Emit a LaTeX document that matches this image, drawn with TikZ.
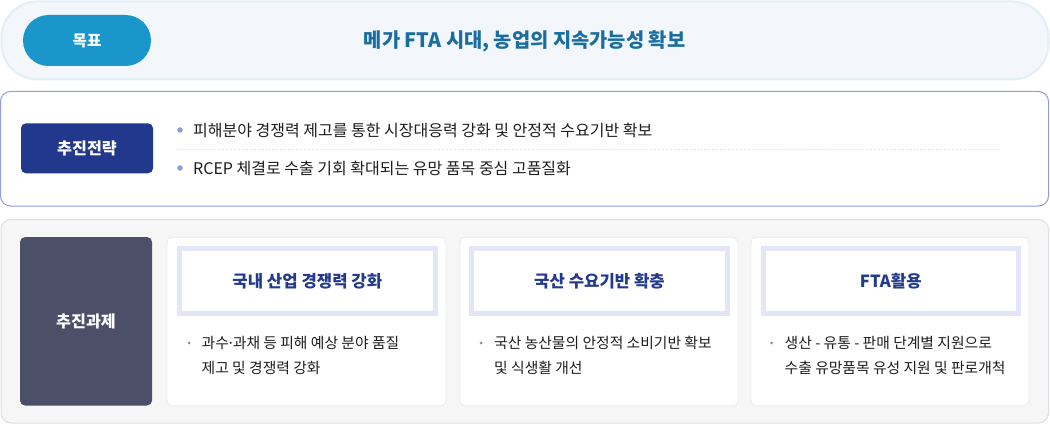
\documentclass[tikz,border=0pt]{standalone}
\usepackage{fontspec}
\setmainfont{Noto Sans CJK KR}
\newfontfamily\latinfont{Noto Sans}
\definecolor{goalfill}{HTML}{F3F7FB}
\definecolor{goalborder}{HTML}{E2EFF7}
\definecolor{goalpill}{HTML}{1A96CB}
\definecolor{goaltxt}{HTML}{1A6E9F}
\definecolor{stratborder}{HTML}{8F9CDD}
\definecolor{stratfill}{HTML}{22388C}
\definecolor{taskfill}{HTML}{F6F6F7}
\definecolor{taskborder}{HTML}{DCDFE6}
\definecolor{tasklabel}{HTML}{4B5068}
\definecolor{cardborder}{HTML}{EBECEF}
\definecolor{headborder}{HTML}{E3E6F7}
\definecolor{headtxt}{HTML}{233A8E}
\definecolor{bodytxt}{HTML}{1E1E1E}
\definecolor{sepcol}{HTML}{D8DBE4}
\begin{document}
\begin{tikzpicture}[x=1pt,y=-1pt,
  frame/.style={inner sep=0pt, outer sep=0pt},
  labelbox/.style={inner sep=0pt, outer sep=0pt, text=white, font=\fontsize{16.2}{19}\selectfont\bfseries},
  headtext/.style={inner sep=0pt, text=headtxt, font=\fontsize{16.7}{19}\selectfont\bfseries},
  bodytext/.style={inner sep=0pt, anchor=west, align=left, text=bodytxt, font=\fontsize{14.8}{25}\selectfont},
  strattext/.style={inner sep=0pt, anchor=west, text=bodytxt, font=\fontsize{16}{19}\selectfont},
  stratdot/.style={circle, fill=stratborder, inner sep=0pt, minimum size=5.5pt},
  bodydot/.style={circle, fill=black!45, inner sep=0pt, minimum size=3pt},
  cardbox/.style={fill=white, draw=cardborder, line width=0.8pt, rounded corners=5pt},
  headbox/.style={fill=white, draw=headborder, line width=5pt}
]
\useasboundingbox (0,0) rectangle (1050,425);

% ---- goal row
\draw[fill=goalfill, draw=goalborder, line width=2pt, rounded corners=36pt] (1.5,1.5) rectangle (1048.5,79.5);
\node[frame] (goalframe) at (525,40.5) {};
\node[labelbox, font=\fontsize{15.6}{19}\selectfont\bfseries, fill=goalpill, rounded corners=25.5pt, minimum width=128pt, minimum height=51pt] (goal) at (87,40.5) {목표};
\node[inner sep=0pt, text=goaltxt, font=\fontsize{19.8}{23}\selectfont\bfseries] (goaltext) at (524.5,41) {메가 FTA 시대, 농업의 지속가능성 확보};

% ---- strategy row
\draw[fill=white, draw=stratborder, line width=1pt, rounded corners=10pt] (0.5,91.5) rectangle (1048.5,206);
\node[labelbox, fill=stratfill, rounded corners=5pt, minimum width=132pt, minimum height=50pt] (strat) at (87,148.3) {추진전략};
\node[stratdot] (d1) at (180,130) {};
\node[stratdot] (d2) at (180,168) {};
\node[strattext] (s1) at (193,130) {피해분야 경쟁력 제고를 통한 시장대응력 강화 및 안정적 수요기반 확보};
\node[strattext] (s2) at (193,168) {RCEP 체결로 수출 기회 확대되는 유망 품목 중심 고품질화};
\coordinate (sepa) at (177,149.5);
\coordinate (sepb) at (1000,149.5);
\draw[sepcol, line width=0.7pt, dotted] (sepa) -- (sepb);

% ---- task row
\draw[fill=taskfill, draw=taskborder, line width=1pt, rounded corners=10pt] (1,219.5) rectangle (1048.5,423);
\node[labelbox, fill=tasklabel, rounded corners=5pt, minimum width=132pt, minimum height=168.5pt] (task) at (86,321.3) {추진과제};

% cards
\draw[cardbox] (167,237.3) rectangle (446,405.7);
\draw[cardbox] (460,237.3) rectangle (738,405.7);
\draw[cardbox] (751,237.3) rectangle (1029,405.7);

\draw[headbox] (179.5,248.5) rectangle (435,313.5);
\draw[headbox] (471.5,248.5) rectangle (727.5,313.5);
\draw[headbox] (763,248.5) rectangle (1018.5,313.5);

\node[headtext] (h1) at (307.3,281.5) {국내 산업 경쟁력 강화};
\node[headtext] (h2) at (599.5,281.5) {국산 수요기반 확충};
\node[headtext] (h3) at (890.8,281.5) {FTA활용};

\node[bodydot] (b1) at (189,343) {};
\node[bodydot] (b2) at (481,343) {};
\node[bodydot] (b3) at (771.5,343) {};
\node[bodytext] (t1) at (201.5,355.5) {과수{\latinfont ·}과채 등 피해 예상 분야 품질\\제고 및 경쟁력 강화};
\node[bodytext] (t2) at (494,355.5) {국산 농산물의 안정적 소비기반 확보\\및 식생활 개선};
\node[bodytext] (t3) at (784.5,355.5) {생산 - 유통 - 판매 단계별 지원으로\\수출 유망품목 유성 지원 및 판로개척};
\end{tikzpicture}
\end{document}
